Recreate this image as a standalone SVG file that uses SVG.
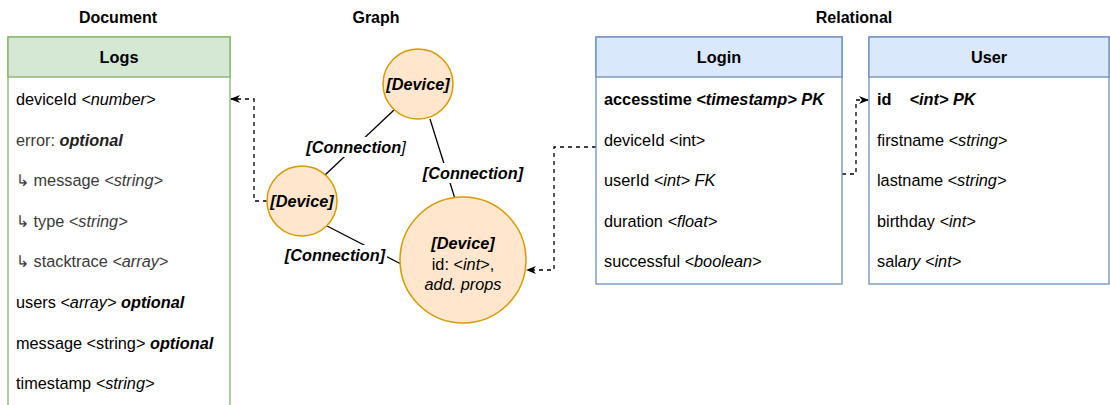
<svg xmlns="http://www.w3.org/2000/svg" width="1110" height="405" viewBox="0 0 1110 405">
  <style>
    text { font-family: "Liberation Sans", Arial, sans-serif; font-size: 16.3px; fill: #000; }
    .title { font-size: 16px; font-weight: bold; text-anchor: middle; }
    .hdr { font-weight: bold; text-anchor: middle; }
    .row { dominant-baseline: central; }
    .sub { fill: #3a3a3a; }
    .i { font-style: italic; }
    .b { font-weight: bold; }
    .bi { font-weight: bold; font-style: italic; }
    .doc-h { fill: #d5e8d4; stroke: #82b366; stroke-width: 1.3; }
    .doc-b { fill: #fff; stroke: #82b366; stroke-width: 1.3; }
    .rel-h { fill: #dae8fc; stroke: #6c8ebf; stroke-width: 1.3; }
    .rel-b { fill: #fff; stroke: #6c8ebf; stroke-width: 1.3; }
    .node { fill: #ffe6cc; stroke: #d79b00; stroke-width: 1.5; }
    .edge { stroke: #000; stroke-width: 1.3; fill: none; }
    .dash { stroke: #000; stroke-width: 1.3; fill: none; stroke-dasharray: 4 4; }
    .lbl { font-weight: bold; font-style: italic; text-anchor: middle; dominant-baseline: central; }
  </style>
  <defs>
    <marker id="arrow" viewBox="0 0 10 10" refX="9" refY="5" markerWidth="10" markerHeight="10" markerUnits="userSpaceOnUse" orient="auto">
      <path d="M0,1 L10,5 L0,9 L3,5 z" fill="#000"/>
    </marker>
  </defs>

  <!-- section titles -->
  <text class="title" x="118" y="23">Document</text>
  <text class="title" x="376" y="23">Graph</text>
  <text class="title" x="854" y="23">Relational</text>

  <!-- Document store: Logs -->
  <g id="logs">
    <rect class="doc-b" x="8" y="37" width="222" height="380"/>
    <rect class="doc-h" x="8" y="37" width="222" height="40"/>
    <text class="hdr" x="119" y="63">Logs</text>
    <text class="row" x="16" y="99">deviceId <tspan class="i">&lt;number&gt;</tspan></text>
    <text class="row sub" x="16" y="140">error: <tspan class="bi" fill="#222">optional</tspan></text>
    <text class="row sub" x="16" y="180">↳ message <tspan class="i">&lt;string&gt;</tspan></text>
    <text class="row sub" x="16" y="221">↳ type <tspan class="i">&lt;string&gt;</tspan></text>
    <text class="row sub" x="16" y="261">↳ stacktrace <tspan class="i">&lt;array&gt;</tspan></text>
    <text class="row" x="16" y="302">users <tspan class="i">&lt;array&gt;</tspan> <tspan class="bi">optional</tspan></text>
    <text class="row" x="16" y="343">message &lt;string&gt; <tspan class="bi">optional</tspan></text>
    <text class="row" x="16" y="383">timestamp <tspan class="i">&lt;string&gt;</tspan></text>
  </g>

  <!-- Graph store -->
  <g id="connectors">
    <line class="edge" x1="394" y1="110" x2="325" y2="175"/>
    <line class="edge" x1="430" y1="119" x2="456" y2="202"/>
    <line class="edge" x1="327" y1="226" x2="401" y2="264"/>
    <path class="dash" d="M267,201 H254 V99 H231" marker-end="url(#arrow)"/>
    <path class="dash" d="M596,147 H554 V270 H527" marker-end="url(#arrow)"/>
    <path class="dash" d="M842,174 H856 V100 H868" marker-end="url(#arrow)"/>
    <rect x="304" y="137" width="104" height="20" fill="#fff"/>
    <text class="lbl" x="356" y="147">[Connection<tspan font-weight="normal">]</tspan></text>
    <rect x="422" y="163" width="103" height="20" fill="#fff"/>
    <text class="lbl" x="473" y="173">[Connection]</text>
    <rect x="284" y="245" width="103" height="20" fill="#fff"/>
    <text class="lbl" x="335" y="255">[Connection]</text>
  </g>

  <g id="device-top">
    <circle class="node" cx="418" cy="84" r="35"/>
    <text class="lbl" x="418" y="84">[Device]</text>
  </g>
  <g id="device-left">
    <circle class="node" cx="302" cy="201" r="35"/>
    <text class="lbl" x="302" y="201">[Device]</text>
  </g>
  <g id="device-main">
    <circle class="node" cx="463" cy="260" r="63"/>
    <text class="lbl" x="463" y="243">[Device]</text>
    <text x="463" y="264" text-anchor="middle" dominant-baseline="central">id: &lt;<tspan class="i">int</tspan>&gt;,</text>
    <text x="463" y="284" text-anchor="middle" dominant-baseline="central" class="i">add. props</text>
  </g>

  <!-- Relational store: Login -->
  <g id="login">
    <rect class="rel-b" x="596" y="37" width="246" height="247"/>
    <rect class="rel-h" x="596" y="37" width="246" height="40"/>
    <text class="hdr" x="719" y="63">Login</text>
    <text class="row b" x="604" y="99">accesstime <tspan class="i">&lt;timestamp&gt; PK</tspan></text>
    <text class="row" x="604" y="140">deviceId &lt;int&gt;</text>
    <text class="row" x="604" y="180">userId <tspan class="i">&lt;int&gt; FK</tspan></text>
    <text class="row" x="604" y="221">duration <tspan class="i">&lt;float&gt;</tspan></text>
    <text class="row" x="604" y="261">successful <tspan class="i">&lt;boolean&gt;</tspan></text>
  </g>

  <!-- Relational store: User -->
  <g id="user">
    <rect class="rel-b" x="869" y="37" width="240" height="247"/>
    <rect class="rel-h" x="869" y="37" width="240" height="40"/>
    <text class="hdr" x="989" y="63">User</text>
    <text class="row b" x="877" y="99" xml:space="preserve">id    <tspan class="i">&lt;int&gt; PK</tspan></text>
    <text class="row" x="877" y="140">firstname <tspan class="i">&lt;string&gt;</tspan></text>
    <text class="row" x="877" y="180">lastname <tspan class="i">&lt;string&gt;</tspan></text>
    <text class="row" x="877" y="221">birthday <tspan class="i">&lt;int&gt;</tspan></text>
    <text class="row" x="877" y="261">sal<tspan class="i">ary &lt;int&gt;</tspan></text>
  </g>
</svg>
